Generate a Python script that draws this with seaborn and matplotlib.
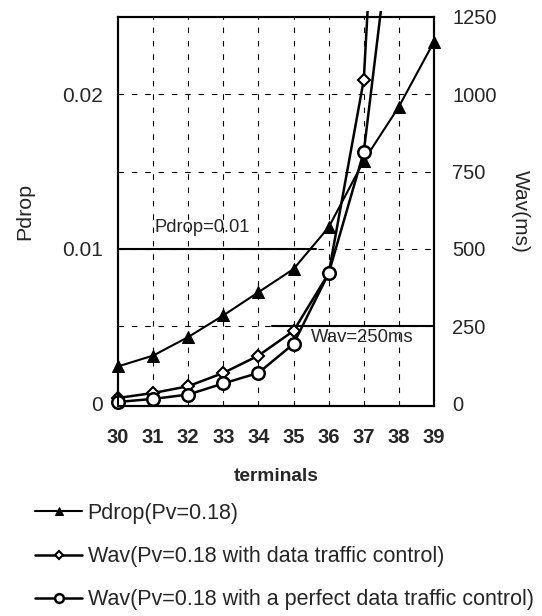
import matplotlib
matplotlib.use("Agg")
import matplotlib.pyplot as plt
from matplotlib.transforms import Bbox, TransformedBbox
import seaborn as sns

terminals = [30, 31, 32, 33, 34, 35, 36, 37, 38, 39]
pdrop = [0.0024, 0.0031, 0.0043, 0.0057, 0.0072, 0.0087, 0.0114, 0.0157, 0.0192, 0.0234]
wav_terminals = [30, 31, 32, 33, 34, 35, 36, 37, 38]
wav_control = [18, 34, 56, 99, 155, 235, 421, 1047, 3100]
wav_perfect = [5, 15, 29, 65, 99, 193, 421, 814, 1750]

labels = ["Pdrop(Pv=0.18)",
          "Wav(Pv=0.18 with data traffic control)",
          "Wav(Pv=0.18 with a perfect data traffic control)"]

sns.set_style("white")
plt.rcParams["font.family"] = ["Liberation Sans", "DejaVu Sans"]

fig = plt.figure(figsize=(5.42, 6.16), dpi=100)
ax = fig.add_axes([118 / 542, 1 - 406 / 616, (434 - 118) / 542, (406 - 17) / 616])
ax2 = ax.twinx()

sns.lineplot(x=terminals, y=pdrop, ax=ax, color="black", marker="^",
             markersize=9, linewidth=1.5, markeredgecolor="black")
sns.lineplot(x=wav_terminals, y=wav_control, ax=ax2, color="black", marker="D",
             markersize=6, linewidth=1.8, markerfacecolor="white",
             markeredgecolor="black", markeredgewidth=1.5)
sns.lineplot(x=wav_terminals, y=wav_perfect, ax=ax2, color="black", marker="o",
             markersize=9, linewidth=1.8, markerfacecolor="white",
             markeredgecolor="black", markeredgewidth=1.8)

ax.set_xlim(30, 39)
ax.set_ylim(-0.00016, 0.025)
ax2.set_ylim(-8, 1250)

# let edge markers show fully, lines may poke slightly above the frame
clip = TransformedBbox(Bbox([[-0.05, -0.05], [1.05, 1.015]]), ax.transAxes)
for ln in ax.lines + ax2.lines:
    ln.set_clip_box(clip)

# grid (dashed) on right-axis scale
for x in terminals[1:-1]:
    ax.axvline(x, color="black", linestyle=(0, (5, 7)), linewidth=0.8, zorder=0)
for y in [250, 500, 750, 1000]:
    ax2.axhline(y, color="black", linestyle=(0, (5, 7)), linewidth=0.8, zorder=0)

# threshold lines
ax.plot([30, 35.63], [0.01, 0.01], color="black", linewidth=1.5)
ax2.plot([34.39, 39], [250, 250], color="black", linewidth=1.5)
ax.text(31.05, 0.0114, "Pdrop=0.01", fontsize=13.2, va="center", ha="left")
ax2.text(35.5, 213, "Wav=250ms", fontsize=13.3, va="center", ha="left")

ax.set_xticks(terminals)
ax.set_xticklabels([str(t) for t in terminals], fontsize=14.5, fontweight="bold")
ax.set_yticks([0, 0.01, 0.02])
ax.set_yticklabels(["0", "0.01", "0.02"], fontsize=15)
ax2.set_yticks([0, 250, 500, 750, 1000, 1250])
ax2.set_yticklabels(["0", "250", "500", "750", "1000", "1250"], fontsize=14.5)
ax.tick_params(axis="x", length=0, pad=16)
ax.tick_params(axis="y", length=0, pad=11)
ax2.tick_params(axis="y", length=0, pad=13)

ax.set_xlabel("terminals", fontsize=13.8, fontweight="bold", labelpad=15)
ax.set_ylabel("Pdrop", fontsize=15.4, labelpad=20)
ax2.set_ylabel("Wav(ms)", fontsize=15, rotation=270, labelpad=24)

for a in (ax, ax2):
    for s in a.spines.values():
        s.set_color("black")
        s.set_linewidth(1.5)

handles = [ax.lines[0], ax2.lines[0], ax2.lines[1]]
fig.legend(handles, labels, loc="upper left", bbox_to_anchor=(35 / 542, 1 - 503 / 616),
           frameon=False, fontsize=15.5, handlelength=2.2, labelspacing=1.03,
           handletextpad=0.25, markerscale=0.7, borderpad=0, borderaxespad=0)

fig.savefig("out.png", dpi=100)
